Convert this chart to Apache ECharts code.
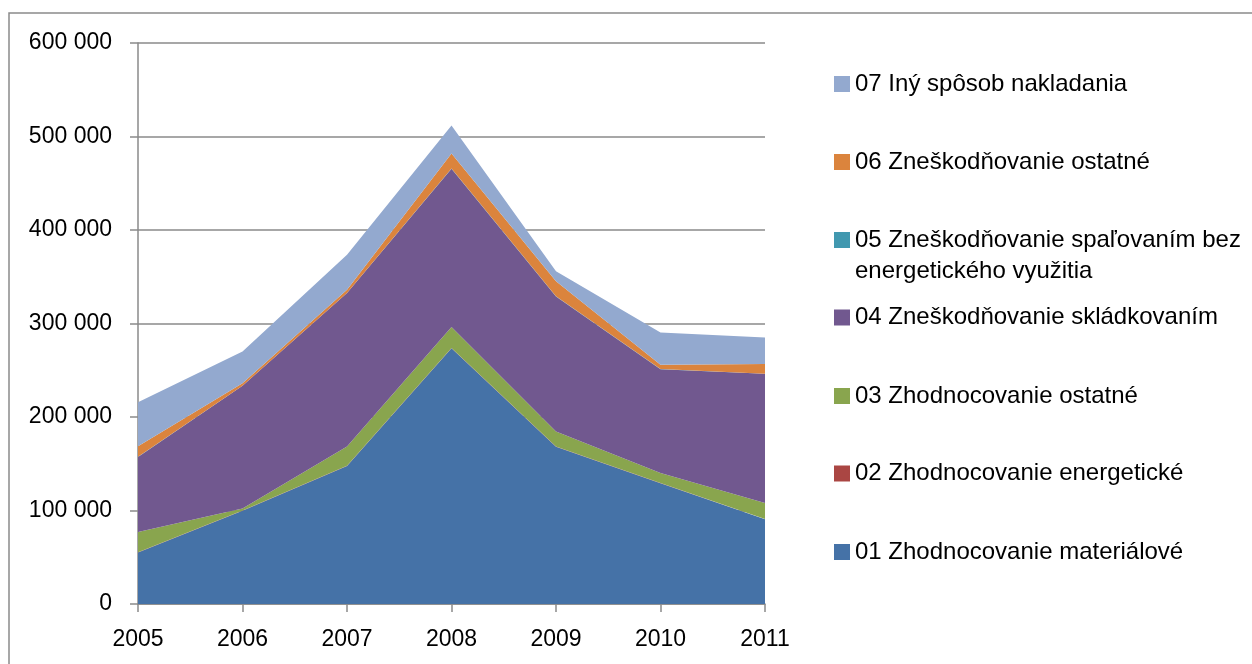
<!DOCTYPE html>
<html>
<head>
<meta charset="utf-8">
<script src="https://cdn.jsdelivr.net/npm/echarts@6/dist/echarts.min.js"></script>
<style>
  html, body { margin: 0; padding: 0; background: #fff; }
  #main { width: 1252px; height: 664px; }
</style>
</head>
<body>
<div id="main"></div>
<script>
// roky na osi x
var years = ['2005', '2006', '2007', '2008', '2009', '2010', '2011'];

// hodnoty odčítané z grafu (t)
var s01 = [55000, 99800, 147600, 273400, 168200, 129100, 90600];
var s02 = [300, 200, 200, 300, 300, 200, 200];
var s03 = [21800, 2100, 20600, 22500, 16100, 10700, 17100];
var s04 = [80200, 131300, 164100, 169300, 144400, 111200, 138300];
var s05 = [200, 100, 100, 200, 200, 100, 100];
var s06 = [11300, 2600, 3500, 16100, 16000, 4600, 10400];
var s07 = [47000, 34000, 37500, 29900, 10700, 34600, 28400];

var names = [
  '01 Zhodnocovanie materiálové',
  '02 Zhodnocovanie energetické',
  '03 Zhodnocovanie ostatné',
  '04 Zneškodňovanie skládkovaním',
  '05 Zneškodňovanie spaľovaním bez energetického využitia',
  '06 Zneškodňovanie ostatné',
  '07 Iný spôsob nakladania'
];
var values = [s01, s02, s03, s04, s05, s06, s07];
var colors = ['#4572A7', '#AA4643', '#89A54E', '#71588F', '#4198AF', '#DB843D', '#93A9CF'];

var font = 'Liberation Sans';
var gray = '#8a8a8a';

var series = names.map(function (n, i) {
  return {
    name: n,
    type: 'line',
    stack: 'total',
    data: values[i],
    showSymbol: false,
    symbol: 'none',
    lineStyle: { width: 0 },
    itemStyle: { color: colors[i] },
    areaStyle: { color: colors[i], opacity: 1 }
  };
});

// legenda: od 07 hore po 01 dole
var legendTops = [540, 461.5, 384, 305.5, 193.5, 150, 72];
var legends = names.map(function (n, i) {
  var lg = {
    data: [n],
    left: 834,
    top: legendTops[i],
    padding: 0,
    itemWidth: 16,
    itemHeight: 16,
    icon: 'rect',
    selectedMode: false,
    textStyle: { fontFamily: font, fontSize: 24, color: '#000' }
  };
  if (i === 4) {
    // prázdny prvý riadok, aby bol prvý riadok textu pri ikone
    lg.formatter = function () {
      return '\n05 Zneškodňovanie spaľovaním bez\nenergetického využitia';
    };
    lg.textStyle.lineHeight = 31;
  }
  return lg;
});

var chart = echarts.init(document.getElementById('main'));
var option = {
  animation: false,
  color: colors,
  graphic: [{
    type: 'rect',
    shape: { x: 9, y: 13, width: 1400, height: 800 },
    style: { fill: 'none', stroke: gray, lineWidth: 1.5 },
    z: -1
  }],
  legend: legends,
  grid: { left: 138, right: 487, top: 43, bottom: 60 },
  xAxis: {
    type: 'category',
    data: years,
    boundaryGap: false,
    axisLine: { lineStyle: { color: gray, width: 1.5 } },
    axisTick: { length: 8, lineStyle: { color: gray, width: 1.5 } },
    axisLabel: { fontFamily: font, fontSize: 23, color: '#000', margin: 24 },
    splitLine: { show: false }
  },
  yAxis: {
    type: 'value',
    min: 0,
    max: 600000,
    interval: 100000,
    axisLine: { show: true, lineStyle: { color: gray, width: 1.5 } },
    axisTick: { show: true, length: 8, lineStyle: { color: gray, width: 1.5 } },
    axisLabel: {
      fontFamily: font, fontSize: 23, color: '#000', margin: 26,
      formatter: function (v) {
        return String(v).replace(/\B(?=(\d{3})+(?!\d))/g, ' ');
      }
    },
    splitLine: { lineStyle: { color: gray, width: 1.5 } }
  },
  series: series
};
chart.setOption(option);
</script>
</body>
</html>
